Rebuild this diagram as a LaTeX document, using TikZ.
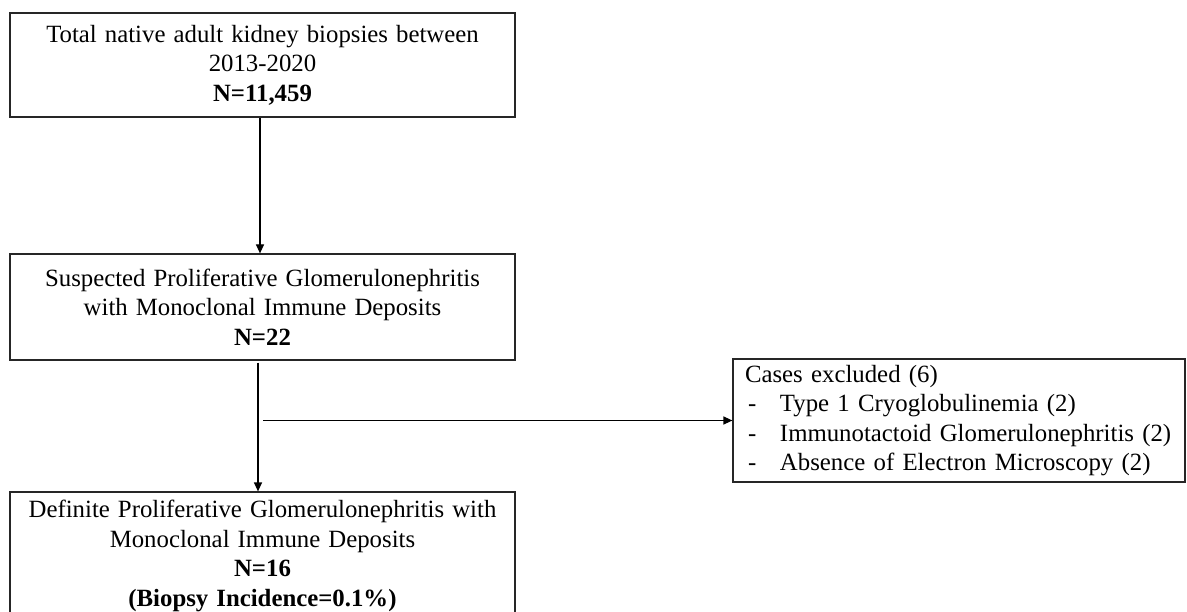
\documentclass[tikz,border=0pt]{standalone}
\usepackage{fontspec}
\setmainfont{Liberation Serif}[WordSpace=1.3]
\usetikzlibrary{arrows.meta}
\tikzset{
  box/.style={draw=black!85, line width=1.2pt, inner sep=0pt, align=center,
    font=\fontsize{24.8}{29.5}\selectfont},
  arr/.style={draw=black, line width=1.2pt, -{Triangle[length=9pt,width=8pt]}},
  ln/.style={draw=black, line width=1.2pt}
}
\newcommand{\dashitem}[1]{\hspace*{3pt}\makebox[32pt][l]{-}#1}
\begin{document}
\begin{tikzpicture}[x=1pt,y=-1pt]
\useasboundingbox (0,0) rectangle (1187,612);
\clip (0,0) rectangle (1187,612);
\fill[white] (0,0) rectangle (1187,612);
\node[box, minimum width=505pt, minimum height=104pt] (top) at (262.5,65)
  {Total native adult kidney biopsies between\\2013-2020\\\textbf{N=11,459}};
\node[box, minimum width=505pt, minimum height=106pt] (mid) at (262.5,307)
  {Suspected Proliferative Glomerulonephritis\\with Monoclonal Immune Deposits\\\textbf{N=22}};
\node[box, minimum width=505pt, minimum height=128pt] (bot) at (262.5,556)
  {Definite Proliferative Glomerulonephritis with\\Monoclonal Immune Deposits\\\textbf{N=16}\\\textbf{(Biopsy Incidence=0.1\%)}};
\node[box, align=left, text width=428pt, inner xsep=12pt, minimum height=123pt] (excl) at (959,420.5)
  {Cases excluded (6)\\\dashitem{Type 1 Cryoglobulinemia (2)}\\\dashitem{Immunotactoid Glomerulonephritis (2)}\\\dashitem{Absence of Electron Microscopy (2)}};
\coordinate (split) at (263,420.5);
\draw[arr] (top.south -| 260,0) -- (mid.north -| 260,0);
\draw[arr] ([yshift=-2pt]mid.south -| 258,0) -- (bot.north -| 258,0);
\draw[arr] (split) -- (excl.west);
\end{tikzpicture}
\end{document}
